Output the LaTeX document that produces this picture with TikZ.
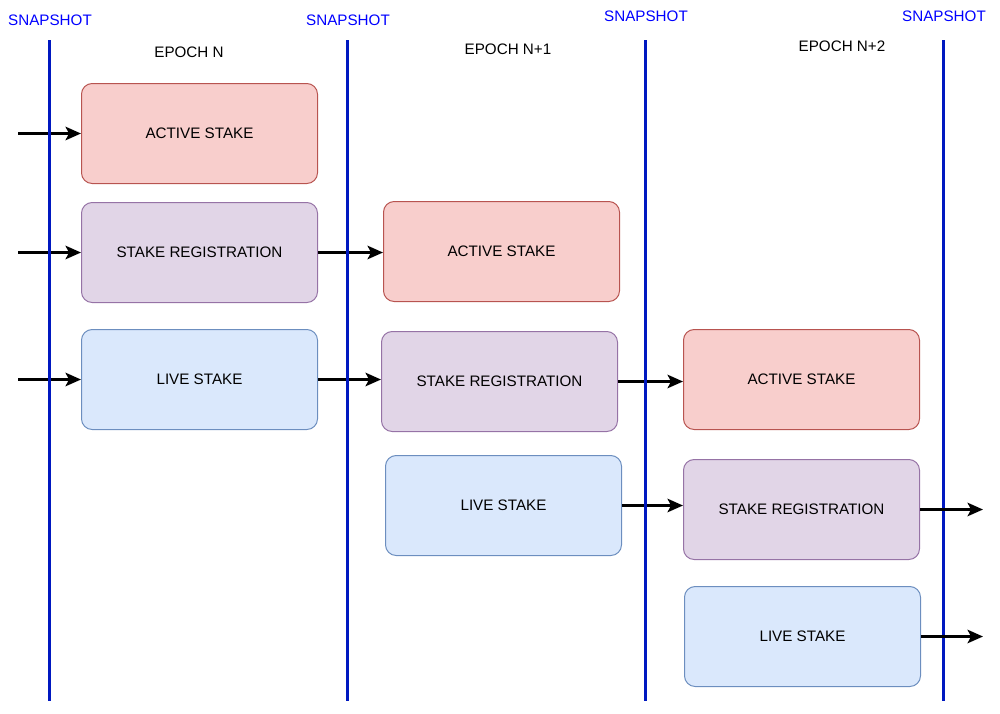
\documentclass[tikz,border=0pt]{standalone}
\usepackage{fontspec}
\setmainfont{Liberation Sans}
\usetikzlibrary{arrows.meta}
\definecolor{redfill}{HTML}{F8CECC}\definecolor{redline}{HTML}{B85450}
\definecolor{purfill}{HTML}{E1D5E7}\definecolor{purline}{HTML}{9673A6}
\definecolor{bluefill}{HTML}{DAE8FC}\definecolor{blueline}{HTML}{6C8EBF}
\definecolor{snapline}{HTML}{0018C0}
\definecolor{snaptext}{HTML}{0000FF}
\begin{document}
\begin{tikzpicture}[x=0.75pt,y=-0.75pt,
  txt/.style={font=\fontsize{11.4}{13}\selectfont, inner sep=0pt},
  boxbase/.style={txt, rounded corners=8pt, line width=0.75pt, minimum width=177pt, minimum height=75pt, anchor=north west},
  redbox/.style={boxbase, draw=redline, fill=redfill},
  purbox/.style={boxbase, draw=purline, fill=purfill},
  bluebox/.style={boxbase, draw=blueline, fill=bluefill},
  snap/.style={txt, text=snaptext},
  snapln/.style={draw=snapline, line width=2.25pt},
  arr/.style={draw=black, line width=2.2pt, -{Stealth[length=11.5pt,width=10pt,inset=2.5pt]}}
]
\useasboundingbox (0,0) rectangle (1000,714);
% snapshot labels
\node[snap] (s1) at (50,20) {SNAPSHOT};
\node[snap] (s2) at (348,20) {SNAPSHOT};
\node[snap] (s3) at (646,16) {SNAPSHOT};
\node[snap] (s4) at (944,16) {SNAPSHOT};
% epoch labels
\node[txt] (e1) at (189,52) {EPOCH N};
\node[txt] (e2) at (508,49) {EPOCH N+1};
\node[txt] (e3) at (842,46) {EPOCH N+2};
% boxes
\node[redbox] (a1) at (81,83) {ACTIVE STAKE};
\node[purbox] (r1) at (81,202) {STAKE REGISTRATION};
\node[bluebox] (l1) at (81,329) {LIVE STAKE};
\node[redbox] (a2) at (383,201) {ACTIVE STAKE};
\node[purbox] (r2) at (381,331) {STAKE REGISTRATION};
\node[bluebox] (l2) at (385,455) {LIVE STAKE};
\node[redbox] (a3) at (683,329) {ACTIVE STAKE};
\node[purbox] (r3) at (683,459) {STAKE REGISTRATION};
\node[bluebox] (l3) at (684,586) {LIVE STAKE};
% free ends
\coordinate (i1) at (18,132);
\coordinate (i2) at (18,252);
\coordinate (i3) at (18,379);
\coordinate (o1) at (983,508);
\coordinate (o2) at (983,639);
% arrows
\draw[arr] (i1 |- a1.west) -- (a1.west);
\draw[arr] (i2 |- r1.west) -- (r1.west);
\draw[arr] (i3 |- l1.west) -- (l1.west);
\draw[arr] (r1.east) -- (a2.west |- r1.east);
\draw[arr] (l1.east) -- (r2.west |- l1.east);
\draw[arr] (r2.east) -- (a3.west |- r2.east);
\draw[arr] (l2.east) -- (r3.west |- l2.east);
% snapshot lines
\coordinate (t1) at (49.5,40); \coordinate (b1) at (49.5,701);
\coordinate (t2) at (347.5,40); \coordinate (b2) at (347.5,701);
\coordinate (t3) at (645.5,40); \coordinate (b3) at (645.5,701);
\coordinate (t4) at (943.5,40); \coordinate (b4) at (943.5,701);
\draw[snapln] (t1) -- (b1);
\draw[snapln] (t2) -- (b2);
\draw[snapln] (t3) -- (b3);
\draw[snapln] (t4) -- (b4);
\draw[arr] (r3.east) -- (o1 |- r3.east);
\draw[arr] (l3.east) -- (o2 |- l3.east);
\end{tikzpicture}
\end{document}
